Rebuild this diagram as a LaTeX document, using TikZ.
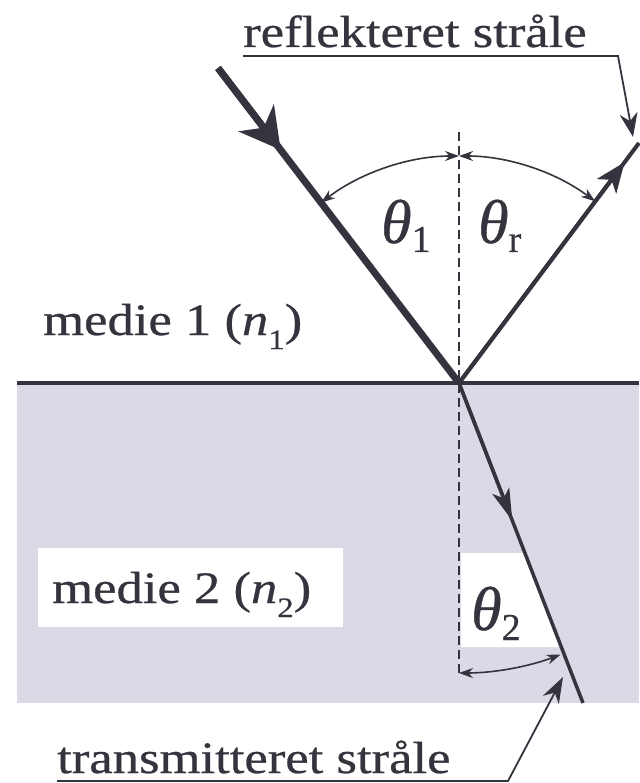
\documentclass[tikz,border=0pt]{standalone}
\usepackage{fontspec}
\setmainfont{Liberation Serif}[FakeStretch=1.17,FakeBold=0.6]
\newfontfamily\thfont{Liberation Serif}[FakeBold=0.6]
\usetikzlibrary{arrows.meta,calc}
\definecolor{ink}{RGB}{55,51,62}
\definecolor{medium}{RGB}{218,218,230}
\newcommand\mysub[2]{\raisebox{#1}{\fontsize{28}{28}\selectfont #2}}
\newcommand\thsub[2]{\raisebox{#1}{\fontsize{38}{38}\selectfont #2}}
\tikzset{
  txt/.style={anchor=base west, inner sep=0pt, text=ink, font=\fontsize{45}{50}\selectfont},
  thlabel/.style={anchor=base west, inner sep=0pt, text=ink, font=\thfont\fontsize{62}{66}\selectfont},
  ray/.style={draw=ink},
  arcarrow/.style={draw=ink, line width=1.6pt, {Stealth[length=14pt,width=10pt]}-{Stealth[length=14pt,width=10pt]}},
  leader/.style={draw=ink, line width=1.8pt},
  normal/.style={draw=ink, line width=1.8pt, dash pattern=on 9pt off 5pt}
}
\begin{document}
\begin{tikzpicture}[x=1pt,y=-1pt]
\useasboundingbox (0,0) rectangle (639,783);
\fill[white] (0,0) rectangle (639,783);
% media
\fill[medium] (17,385) rectangle (639,703);
\fill[white] (38,548) rectangle (343,627);
\fill[white] (461,553) -- (525,553) -- (561,647) -- (461,647) -- cycle;
% coordinates
\coordinate (O) at (459,383);
\coordinate (A) at (218,68);
\coordinate (R) at (639,143);
\coordinate (T) at (583,703);
\coordinate (Ntop) at (459,132);
\coordinate (Nbot) at (459,673);
\coordinate (Lft) at (17,383);
\coordinate (Rgt) at (639,383);
% interface and normal
\draw[ink, line width=4pt] (Lft) -- (Rgt);
\draw[normal] (Ntop) -- (Nbot);
% rays
\draw[ray, line width=7pt] (A) -- (O);
\draw[ray, line width=7pt, -{Stealth[length=40pt 0,width=44pt 0,inset=12pt]}] (A) -- ($(A)!0.26!(O)$);
\draw[ray, line width=4pt] (O) -- (R);
\draw[ray, line width=4pt, -{Stealth[length=30pt 0,width=24pt 0,inset=8pt]}] (O) -- ($(O)!0.92!(R)$);
\draw[ray, line width=3.5pt] (O) -- (T);
\draw[ray, line width=3.5pt, -{Stealth[length=32pt 0,width=18pt 0,inset=8pt]}] (O) -- ($(O)!0.43!(T)$);
% angle arcs
\draw[arcarrow] ($(O)+(-127.4:227)$) arc[start angle=-127.4, end angle=-90, radius=227];
\draw[arcarrow] ($(O)+(-90:227)$) arc[start angle=-90, end angle=-53.2, radius=227];
\draw[arcarrow] ($(O)+(90:290)$) arc[start angle=90, end angle=69.5, radius=290];
% angle labels
\node[thlabel] (th1) at (381,243) {\itshape θ\thsub{-9pt}{\upshape 1}};
\node[thlabel] (thr) at (478,243) {\itshape θ\thsub{-9pt}{\upshape r}};
\node[thlabel] (th2) at (471,630) {\itshape θ\thsub{-10pt}{\upshape 2}};
% texts
\node[txt] (refl) at (243,47) {reflekteret stråle};
\node[txt] (m1) at (43,335) {medie 1 (\textit{n}\mysub{-14pt}{1})};
\node[txt] (m2) at (52,603) {medie 2 (\textit{n}\mysub{-14pt}{2})};
\node[txt] (trans) at (57,773) {transmitteret stråle};
% leaders
\coordinate (u1) at (243,56);
\coordinate (u2) at (618,56);
\coordinate (p1) at (633,137);
\draw[leader, -{Stealth[length=24pt 0,width=18pt 0]}] (u1) -- (u2) -- (p1);
\coordinate (v1) at (57,781);
\coordinate (v2) at (508,781);
\coordinate (p2) at (563,677);
\draw[leader, -{Stealth[length=26pt 0,width=18pt 0]}] (v1) -- (v2) -- (p2);
\end{tikzpicture}
\end{document}
